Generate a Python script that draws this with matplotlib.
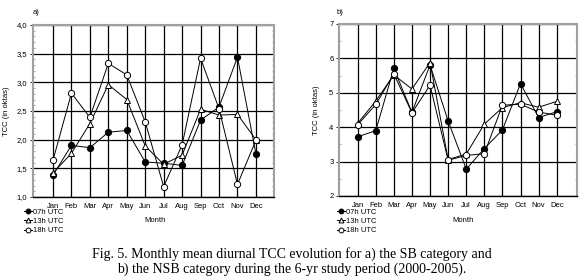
import matplotlib
matplotlib.use("Agg")
import matplotlib.pyplot as plt
from matplotlib.ticker import MultipleLocator, FuncFormatter
from matplotlib.lines import Line2D

months = ["Jan", "Feb", "Mar", "Apr", "May", "Jun", "Jul", "Aug", "Sep", "Oct", "Nov", "Dec"]
series_labels = ["07h UTC", "13h UTC", "18h UTC"]

# Panel a) SB category
sb_07 = [1.38, 1.90, 1.86, 2.13, 2.16, 1.61, 1.59, 1.55, 2.34, 2.57, 3.44, 1.75]
sb_13 = [1.42, 1.76, 2.28, 2.96, 2.70, 1.89, 1.57, 1.73, 2.53, 2.43, 2.44, 2.00]
sb_18 = [1.64, 2.81, 2.39, 3.33, 3.13, 2.31, 1.18, 1.91, 3.42, 2.54, 1.22, 1.99]

# Panel b) NSB category
nsb_07 = [3.72, 3.90, 5.71, 4.43, 5.81, 4.18, 2.78, 3.38, 3.92, 5.27, 4.28, 4.45]
nsb_13 = [4.11, 4.76, 5.52, 5.11, 5.88, 3.06, 3.22, 4.09, 4.57, 4.71, 4.58, 4.75]
nsb_18 = [4.07, 4.66, 5.55, 4.42, 5.22, 3.04, 3.18, 3.23, 4.64, 4.67, 4.44, 4.35]

caption = ["Fig. 5. Monthly mean diurnal TCC evolution for a) the SB category and",
           "b) the NSB category during the 6-yr study period (2000-2005)."]

plt.rcParams['font.family'] = ['Liberation Sans', 'DejaVu Sans']

fig = plt.figure(figsize=(5.84, 2.80), dpi=100)
W, H = 584, 280

def ax_rect(l, r, t, b):
    return [l / W, 1 - b / H, (r - l) / W, (b - t) / H]

styles = [dict(marker='o', mfc='black', mec='black'),
          dict(marker='^', mfc='white', mec='black'),
          dict(marker='o', mfc='white', mec='black')]

def make_panel(rect, data, ylim, ystep, minor, xlim, fmt, label, label_xy, ylab_x, month_x, leg_x):
    ax = fig.add_axes(ax_rect(*rect))
    x = list(range(1, 13))
    for vals, st in zip(data, styles):
        ax.plot(x, vals, color='black', lw=0.7, ms=4.5, mew=0.7, zorder=3, **st)
    ax.set_xlim(*xlim)
    ax.set_ylim(*ylim)
    ax.set_xticks(x)
    ax.set_xticklabels(months, fontsize=5.5)
    ax.yaxis.set_major_locator(MultipleLocator(ystep))
    ax.yaxis.set_minor_locator(MultipleLocator(minor))
    ax.yaxis.set_major_formatter(FuncFormatter(fmt))
    ax.tick_params(axis='y', which='major', labelsize=5.5, length=2.5, width=0.6, pad=1.5)
    ax.tick_params(axis='y', which='minor', length=1.5, width=0.5, right=True, left=True,
                   direction='in', color='#888888')
    ax.tick_params(axis='x', length=0, pad=4)
    ax.grid(True, which='major', color='black', lw=0.9, zorder=1)
    for s in ax.spines.values():
        s.set_color('#a0a0a0')
        s.set_linewidth(1.5)
    ax.spines['bottom'].set_color('black')
    ax.spines['bottom'].set_linewidth(1.0)
    ax.set_ylabel("TCC (in oktas)", fontsize=5.5)
    ax.yaxis.set_label_coords((ylab_x - rect[0]) / (rect[1] - rect[0]), 0.5)
    fig.text(label_xy[0] / W, 1 - label_xy[1] / H, label, fontsize=5.5, ha='left', va='center')
    fig.text(month_x / W, 1 - 220 / H, "Month", fontsize=5.5, ha='center', va='center')
    handles = [Line2D([0], [0], color='black', lw=0.7, ms=3.5, mew=0.7, **st) for st in styles]
    fig.legend(handles, series_labels, loc='upper left',
               bbox_to_anchor=(leg_x / W, 1 - 208.5 / H), fontsize=5.5,
               frameon=False, handlelength=1.1, handletextpad=0.1,
               labelspacing=0.25, borderpad=0, borderaxespad=0)
    return ax

make_panel((32.5, 274, 25, 197), [sb_07, sb_13, sb_18], (1.0, 4.0), 0.5, 0.1,
           (-0.11, 12.98), lambda v, p: f"{v:.1f}".replace('.', ','),
           "a)", (33, 12), 10, 155, 24)
make_panel((339, 577, 24, 196), [nsb_07, nsb_13, nsb_18], (2, 7), 1, 0.5,
           (-0.03, 13.12), lambda v, p: f"{v:.0f}",
           "b)", (337, 13), 320, 463, 337)

fig.text(0.5, 1 - 254 / H, caption[0], fontsize=10, ha='center', va='center',
         family=['Liberation Serif', 'DejaVu Serif'])
fig.text(0.5, 1 - 269.5 / H, caption[1], fontsize=10, ha='center', va='center',
         family=['Liberation Serif', 'DejaVu Serif'])

fig.savefig("out.png", dpi=100, facecolor='white')
